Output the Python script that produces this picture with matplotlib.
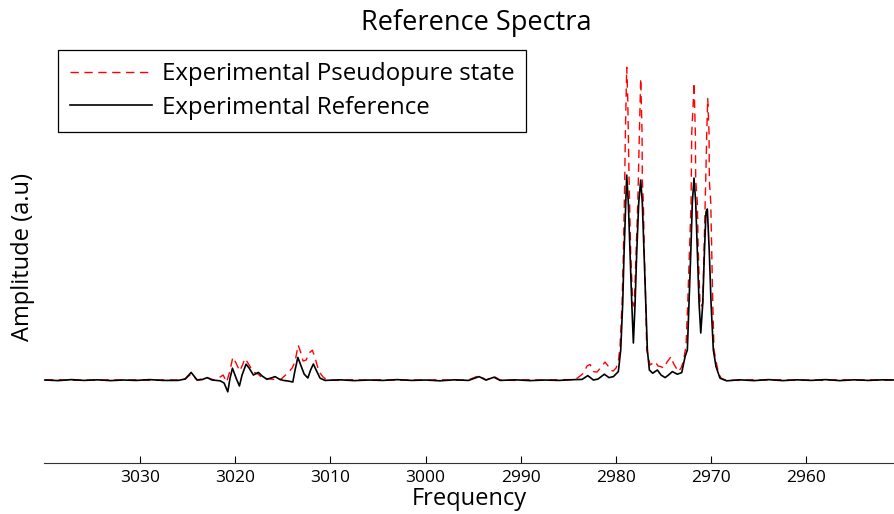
import matplotlib
matplotlib.use("Agg")
import matplotlib.pyplot as plt

# reference spectrum (black, solid)
ref_freq = [3040.0, 3038.6, 3037.2, 3035.9, 3034.5, 3033.1, 3031.8, 3030.4, 3029.0, 3027.6,
            3026.0, 3025.27, 3024.64, 3024.01, 3023.49, 3022.96, 3022.44, 3021.6, 3021.18, 3020.79,
            3020.55, 3020.30, 3019.92, 3019.57, 3019.29, 3018.87, 3018.55, 3018.10, 3017.57, 3017.18,
            3016.69, 3016.24, 3015.82, 3015.40, 3014.95, 3014.45, 3013.96, 3013.72, 3013.43, 3013.09,
            3012.77, 3012.38, 3012.09, 3011.80, 3011.51, 3011.09, 3010.57, 3009.0, 3007.5, 3006.0,
            3004.5, 3003.0, 3001.5, 3000.0, 2998.5, 2997.0, 2995.5, 2994.39, 2993.66, 2992.82,
            2992.18, 2990.6, 2989.0, 2987.5, 2986.0, 2984.31, 2983.57, 2982.97, 2982.38, 2981.89,
            2981.23, 2980.74, 2980.28, 2979.76, 2979.51, 2979.30, 2979.16, 2978.98, 2978.88, 2978.71,
            2978.53, 2978.35, 2978.18, 2978.00, 2977.83, 2977.62, 2977.41, 2977.24, 2977.06, 2976.88,
            2976.71, 2976.50, 2976.15, 2975.66, 2975.27, 2974.85, 2974.49, 2974.09, 2973.56, 2973.10,
            2972.75, 2972.51, 2972.33, 2972.15, 2971.99, 2971.81, 2971.63, 2971.46, 2971.28, 2971.10,
            2970.89, 2970.72, 2970.55, 2970.41, 2970.20, 2970.02, 2969.78, 2969.50, 2969.08, 2968.37,
            2967.0, 2965.5, 2964.0, 2962.5, 2961.0, 2959.5, 2958.0, 2956.5, 2955.0, 2953.5,
            2952.0, 2950.5]
ref_amp = [0.000, -0.003, 0.002, -0.002, 0.001, -0.003, 0.000, -0.002, 0.002, -0.002,
           -0.002, 0.005, 0.038, 0.000, 0.002, 0.012, 0.000, -0.004, -0.015, -0.059,
           0.010, 0.059, 0.010, -0.030, 0.025, 0.079, 0.060, 0.025, 0.038, 0.020,
           0.004, 0.010, 0.017, 0.005, -0.002, -0.005, -0.010, 0.050, 0.113, 0.070,
           0.030, 0.010, 0.050, 0.080, 0.050, 0.009, -0.002, 0.001, -0.003, 0.000,
           -0.002, 0.002, -0.002, 0.000, -0.004, 0.001, -0.002, 0.017, 0.000, 0.014,
           -0.002, 0.001, -0.003, 0.000, -0.002, 0.002, 0.003, 0.022, 0.000, 0.005,
           0.029, 0.012, 0.017, 0.042, 0.150, 0.385, 0.635, 0.885, 1.025, 0.885,
           0.635, 0.385, 0.185, 0.385, 0.635, 0.885, 1.000, 0.885, 0.635, 0.385,
           0.150, 0.050, 0.034, 0.050, 0.025, 0.012, 0.025, 0.042, 0.029, 0.037,
           0.117, 0.150, 0.385, 0.635, 0.885, 1.010, 0.885, 0.635, 0.385, 0.235,
           0.385, 0.635, 0.840, 0.855, 0.635, 0.385, 0.150, 0.067, 0.009, -0.004,
           0.001, -0.003, 0.002, -0.003, 0.001, -0.002, 0.002, -0.003, 0.001, -0.002,
           0.001, 0.000]

# pseudopure state spectrum (red, dashed)
pps_freq = [3040.0, 3038.6, 3037.2, 3035.9, 3034.5, 3033.1, 3031.8, 3030.4, 3029.0, 3027.6,
            3026.0, 3025.27, 3024.64, 3024.01, 3022.96, 3022.23, 3021.6, 3021.28, 3020.91, 3020.60,
            3020.26, 3019.92, 3019.55, 3019.29, 3018.97, 3018.55, 3018.10, 3017.61, 3017.18, 3016.34,
            3015.29, 3014.42, 3014.03, 3013.72, 3013.40, 3013.14, 3012.88, 3012.56, 3012.25, 3011.90,
            3011.62, 3011.35, 3011.09, 3010.78, 3010.36, 3009.0, 3007.5, 3006.0, 3004.5, 3003.0,
            3001.5, 3000.0, 2998.5, 2997.0, 2995.5, 2994.39, 2993.66, 2992.82, 2992.18, 2990.6,
            2989.0, 2987.5, 2986.0, 2984.31, 2983.78, 2983.43, 2983.05, 2982.73, 2982.38, 2982.00,
            2981.68, 2981.16, 2980.84, 2980.63, 2980.31, 2980.00, 2979.76, 2979.58, 2979.37, 2979.23,
            2979.09, 2979.02, 2978.95, 2978.88, 2978.77, 2978.71, 2978.63, 2978.46, 2978.25, 2978.18,
            2978.08, 2977.90, 2977.72, 2977.66, 2977.55, 2977.41, 2977.27, 2977.24, 2977.13, 2977.03,
            2976.88, 2976.78, 2976.43, 2975.90, 2975.59, 2975.31, 2974.96, 2974.64, 2974.22, 2973.98,
            2973.46, 2973.17, 2972.93, 2972.65, 2972.47, 2972.30, 2972.12, 2972.05, 2971.88, 2971.81,
            2971.67, 2971.63, 2971.46, 2971.36, 2971.18, 2971.10, 2970.89, 2970.76, 2970.62, 2970.58,
            2970.47, 2970.37, 2970.23, 2970.20, 2970.05, 2969.95, 2969.84, 2969.71, 2969.25, 2968.97,
            2968.55, 2967.0, 2965.5, 2964.0, 2962.5, 2961.0, 2959.5, 2958.0, 2956.5, 2955.0,
            2953.5, 2952.0, 2950.5]
pps_amp = [0.000, 0.002, -0.002, 0.001, -0.002, 0.002, -0.001, 0.001, -0.002, 0.001,
           0.000, 0.005, 0.030, 0.000, 0.012, 0.000, 0.015, 0.025, -0.010, 0.040,
           0.114, 0.085, 0.045, 0.070, 0.108, 0.075, 0.040, 0.030, 0.010, 0.005,
           0.000, 0.038, 0.060, 0.092, 0.175, 0.140, 0.095, 0.100, 0.135, 0.149,
           0.110, 0.065, 0.035, 0.015, 0.000, -0.002, 0.002, -0.001, 0.002, -0.002,
           0.001, -0.001, 0.002, -0.002, 0.001, 0.022, 0.000, 0.018, 0.000, -0.002,
           0.002, -0.001, 0.002, 0.002, 0.020, 0.034, 0.070, 0.078, 0.042, 0.040,
           0.058, 0.090, 0.070, 0.050, 0.045, 0.060, 0.092, 0.170, 0.385, 0.635,
           1.000, 1.235, 1.400, 1.564, 1.400, 1.235, 1.000, 0.635, 0.385, 0.370,
           0.385, 0.635, 0.885, 1.000, 1.235, 1.508, 1.235, 1.000, 0.885, 0.635,
           0.385, 0.150, 0.075, 0.092, 0.070, 0.067, 0.060, 0.090, 0.117, 0.084,
           0.042, 0.060, 0.092, 0.170, 0.385, 0.635, 0.885, 1.235, 1.400, 1.487,
           1.235, 1.000, 0.885, 0.635, 0.385, 0.365, 0.385, 0.635, 0.885, 1.000,
           1.235, 1.408, 1.235, 1.000, 0.885, 0.635, 0.385, 0.150, 0.034, 0.010,
           0.000, -0.002, 0.002, -0.001, 0.002, -0.002, 0.001, -0.002, 0.002, -0.001,
           0.002, -0.001, 0.000]

xticks = [3030, 3020, 3010, 3000, 2990, 2980, 2970, 2960]

plt.rcParams['font.family'] = ['Open Sans', 'DejaVu Sans']

fig = plt.figure(figsize=(8.94, 5.14), dpi=100)
ax = fig.add_axes([0.0492, 0.0992, 0.9508, 0.819])

ax.plot(pps_freq, pps_amp, color='red', lw=1.0, dashes=(6, 4),
        label='Experimental Pseudopure state')
ax.plot(ref_freq, ref_amp, color='black', lw=1.2, label='Experimental Reference')

ax.set_xlim(3040.1, 2950.8)
ax.set_ylim(-0.415, 1.69)
ax.set_xticks(xticks)
ax.set_yticks([])
ax.tick_params(axis='x', direction='in', length=5, width=0.8, labelsize=12.5, pad=5)
for s in ['top', 'right', 'left']:
    ax.spines[s].set_visible(False)
ax.spines['bottom'].set_color('#333333')

ax.set_title('Reference Spectra', fontsize=19.5, pad=9, x=0.509)
ax.set_xlabel('Frequency', fontsize=17, labelpad=1)
ax.set_ylabel('Amplitude (a.u)', fontsize=17)
ax.yaxis.set_label_coords(-0.010, 0.49)

leg = ax.legend(loc='upper left', bbox_to_anchor=(0.0165, 0.981), borderaxespad=0,
                fontsize=17.3, handlelength=3.4, handletextpad=0.42, labelspacing=0.4,
                borderpad=0.5, fancybox=False, framealpha=1, edgecolor='black')
leg.get_frame().set_linewidth(0.9)

fig.savefig('out.png', dpi=100)
